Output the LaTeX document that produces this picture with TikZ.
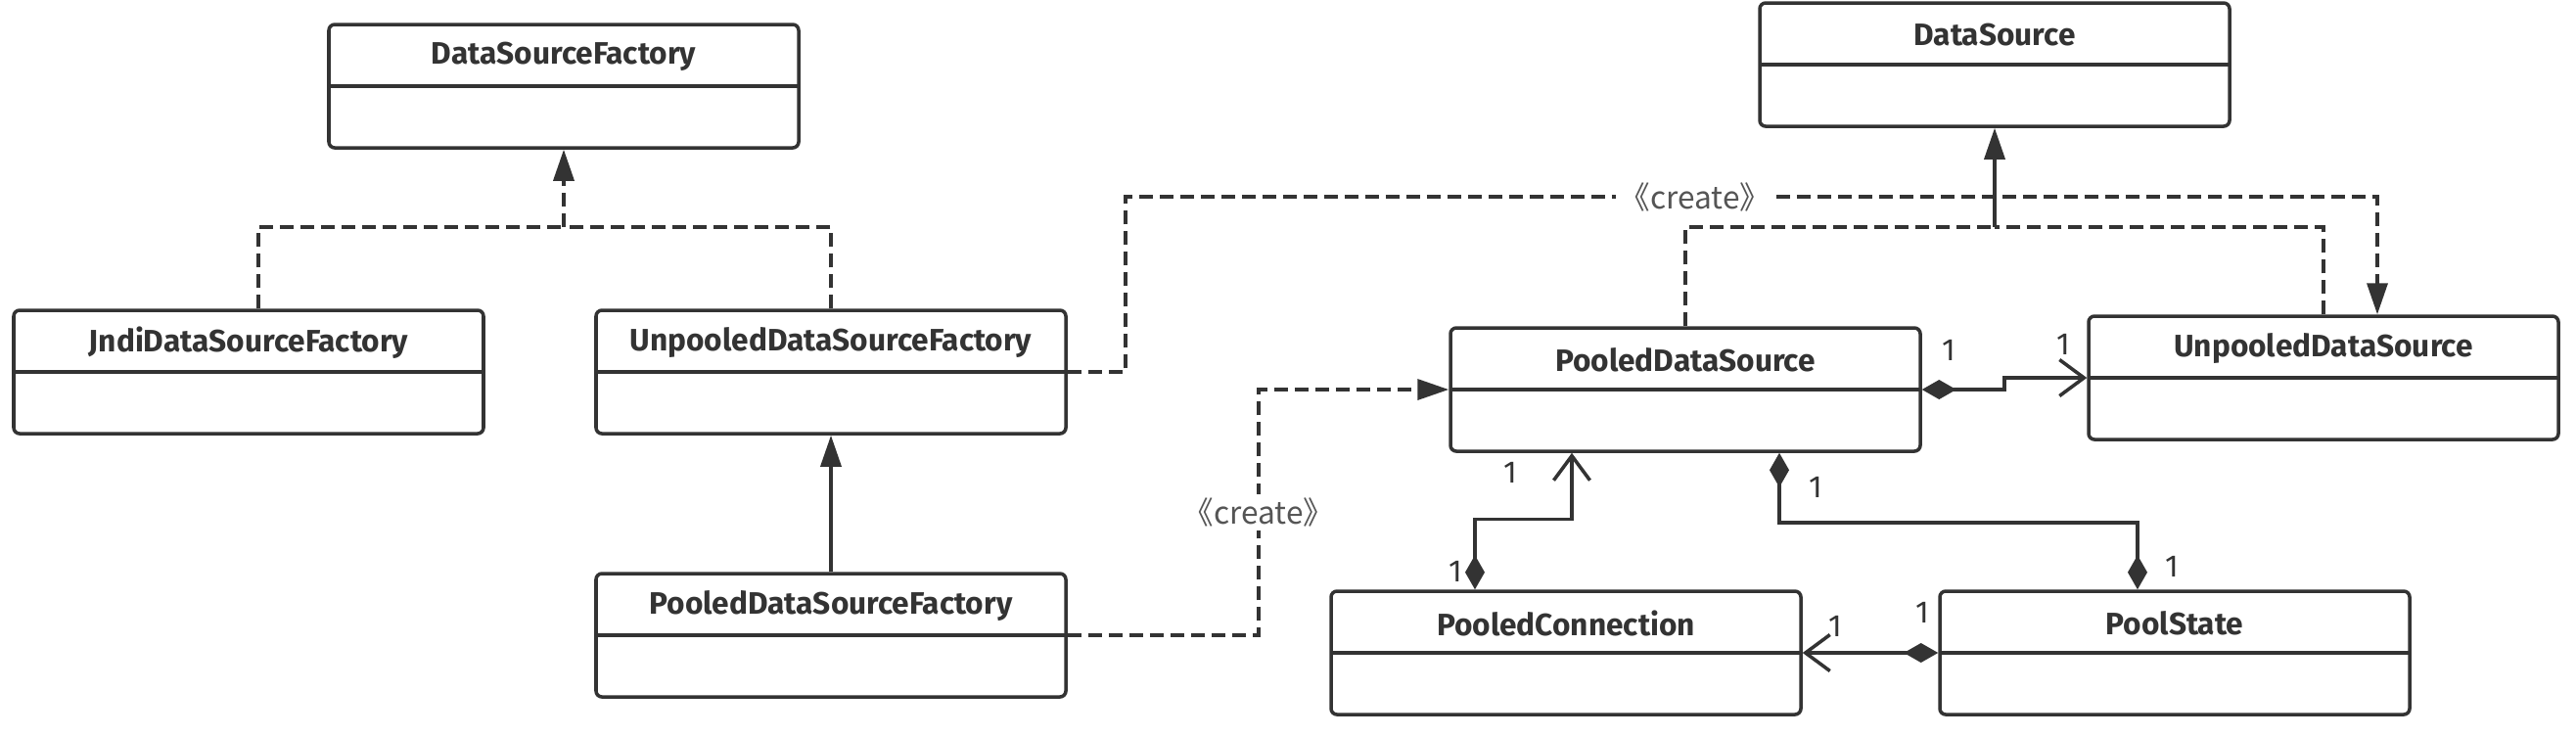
\documentclass[tikz,border=0pt]{standalone}
\usepackage{fontspec}
\setmainfont{Fira Sans}
\newfontfamily\cjkfont{Noto Sans CJK SC}
\usepackage{tikz}
\usetikzlibrary{positioning, calc, arrows.meta}
\definecolor{UmlLine}{HTML}{333333}
\definecolor{UmlText}{HTML}{333333}
\definecolor{UmlNote}{HTML}{555555}

\tikzset{
  umlclass/.style={draw=UmlLine, line width=1pt, rounded corners=0.6mm,
    minimum width=4.8cm, minimum height=1.26cm, inner sep=0pt,
    path picture={\draw[UmlLine, line width=1pt]
      (path picture bounding box.west) -- (path picture bounding box.east);}},
  clsname/.style={anchor=center, yshift=-3.45mm, text=UmlText,
    font=\bfseries\fontsize{9}{11}\selectfont},
  dep/.style={UmlLine, line width=1pt, dash pattern=on 1.4mm off 0.7mm},
  realize/.style={dep, -{Triangle[length=3.2mm, width=2.1mm]}},
  inherit/.style={UmlLine, line width=1pt, -{Triangle[length=3.2mm, width=2.1mm]}},
  assoc/.style={UmlLine, line width=1pt,
    {Diamond[length=3.5mm, width=2mm]}-{Straight Barb[length=2.5mm, width=3.7mm]}},
  bothcomp/.style={UmlLine, line width=1pt,
    {Diamond[length=3.5mm, width=2mm]}-{Diamond[length=3.5mm, width=2mm]}},
  mult/.style={text=UmlText, inner sep=0pt, font=\fontsize{9}{11}\selectfont},
  stereo/.style={fill=white, text=UmlNote, inner sep=1pt,
    font=\cjkfont\fontsize{9}{11}\selectfont}
}

\begin{document}
\begin{tikzpicture}
  \useasboundingbox (0,0) rectangle (26.32,-7.52);
  \fill[white] (0,0) rectangle (26.32,-7.52);
  %% Factory side
  \node[umlclass, label={[clsname]90:DataSourceFactory}] (dsf) at (5.76,-0.88) {};
  \node[umlclass, label={[clsname]90:JndiDataSourceFactory}] (jndi) at (2.54,-3.80) {};
  \node[umlclass, label={[clsname]90:UnpooledDataSourceFactory}] (udsf) at (8.49,-3.80) {};
  \node[umlclass, label={[clsname]90:PooledDataSourceFactory}] (pdsf) at (8.49,-6.49) {};
  %% DataSource side
  \node[umlclass, label={[clsname]90:DataSource}] (ds) at (20.38,-0.66) {};
  \node[umlclass, label={[clsname]90:PooledDataSource}] (pds) at (17.22,-3.98) {};
  \node[umlclass, label={[clsname]90:UnpooledDataSource}] (uds) at (23.74,-3.86) {};
  \node[umlclass, label={[clsname]90:PooledConnection}] (pconn) at (16.00,-6.67) {};
  \node[umlclass, label={[clsname]90:PoolState}] (pstate) at (22.22,-6.67) {};
  %% Junction and bend points
  \coordinate (dsfj) at (dsf.south |- 0,-2.32);
  \coordinate (dsj) at (ds.south |- 0,-2.32);
  \coordinate (c1) at (11.50,-2.01);
  \coordinate (c2) at (24.29,-2.01);
  \coordinate (c3) at (12.86,-3.98);
  %% Realisations of DataSourceFactory
  \draw[realize] (dsfj) -- (dsf.south);
  \draw[dep] ([xshift=1mm]jndi.north) |- (dsfj);
  \draw[dep] (udsf.north) |- (dsfj);
  \draw[inherit] (pdsf.north) -- (udsf.south);
  %% create dependencies
  \draw[realize] (udsf.east) -| (c1) -- node[stereo, pos=0.455] (cr1) {《create》} (c2) -- (c2 |- uds.north);
  \draw[realize] (pdsf.east) -| node[stereo, pos=0.75] (cr2) {《create》} (c3) -- (pds.west);
  %% Realisations of DataSource
  \draw[inherit] (dsj) -- (ds.south);
  \draw[dep] (pds.north) |- (dsj);
  \draw[dep] (uds.north) |- (dsj);
  %% Compositions
  \draw[assoc] (pds.east) -- (20.48,-3.98) |- (uds.west);
  \draw[assoc] ([xshift=-9.3mm]pconn.north) -- ++(0,0.72) -| ([xshift=-11.6mm]pds.south);
  \draw[bothcomp] ([xshift=9.6mm]pds.south) -- ++(0,-0.71) -| ([xshift=-3.8mm]pstate.north);
  \draw[assoc] (pstate.west) -- (pconn.east);
  %% Multiplicities
  \node[mult] (m1) at (19.91,-3.58) {1};
  \node[mult] (m2) at (21.08,-3.52) {1};
  \node[mult] (m3) at (15.43,-4.83) {1};
  \node[mult] (m4) at (14.87,-5.84) {1};
  \node[mult] (m5) at (18.55,-4.98) {1};
  \node[mult] (m6) at (22.19,-5.79) {1};
  \node[mult] (m7) at (18.75,-6.40) {1};
  \node[mult] (m8) at (19.64,-6.26) {1};
\end{tikzpicture}
\end{document}
